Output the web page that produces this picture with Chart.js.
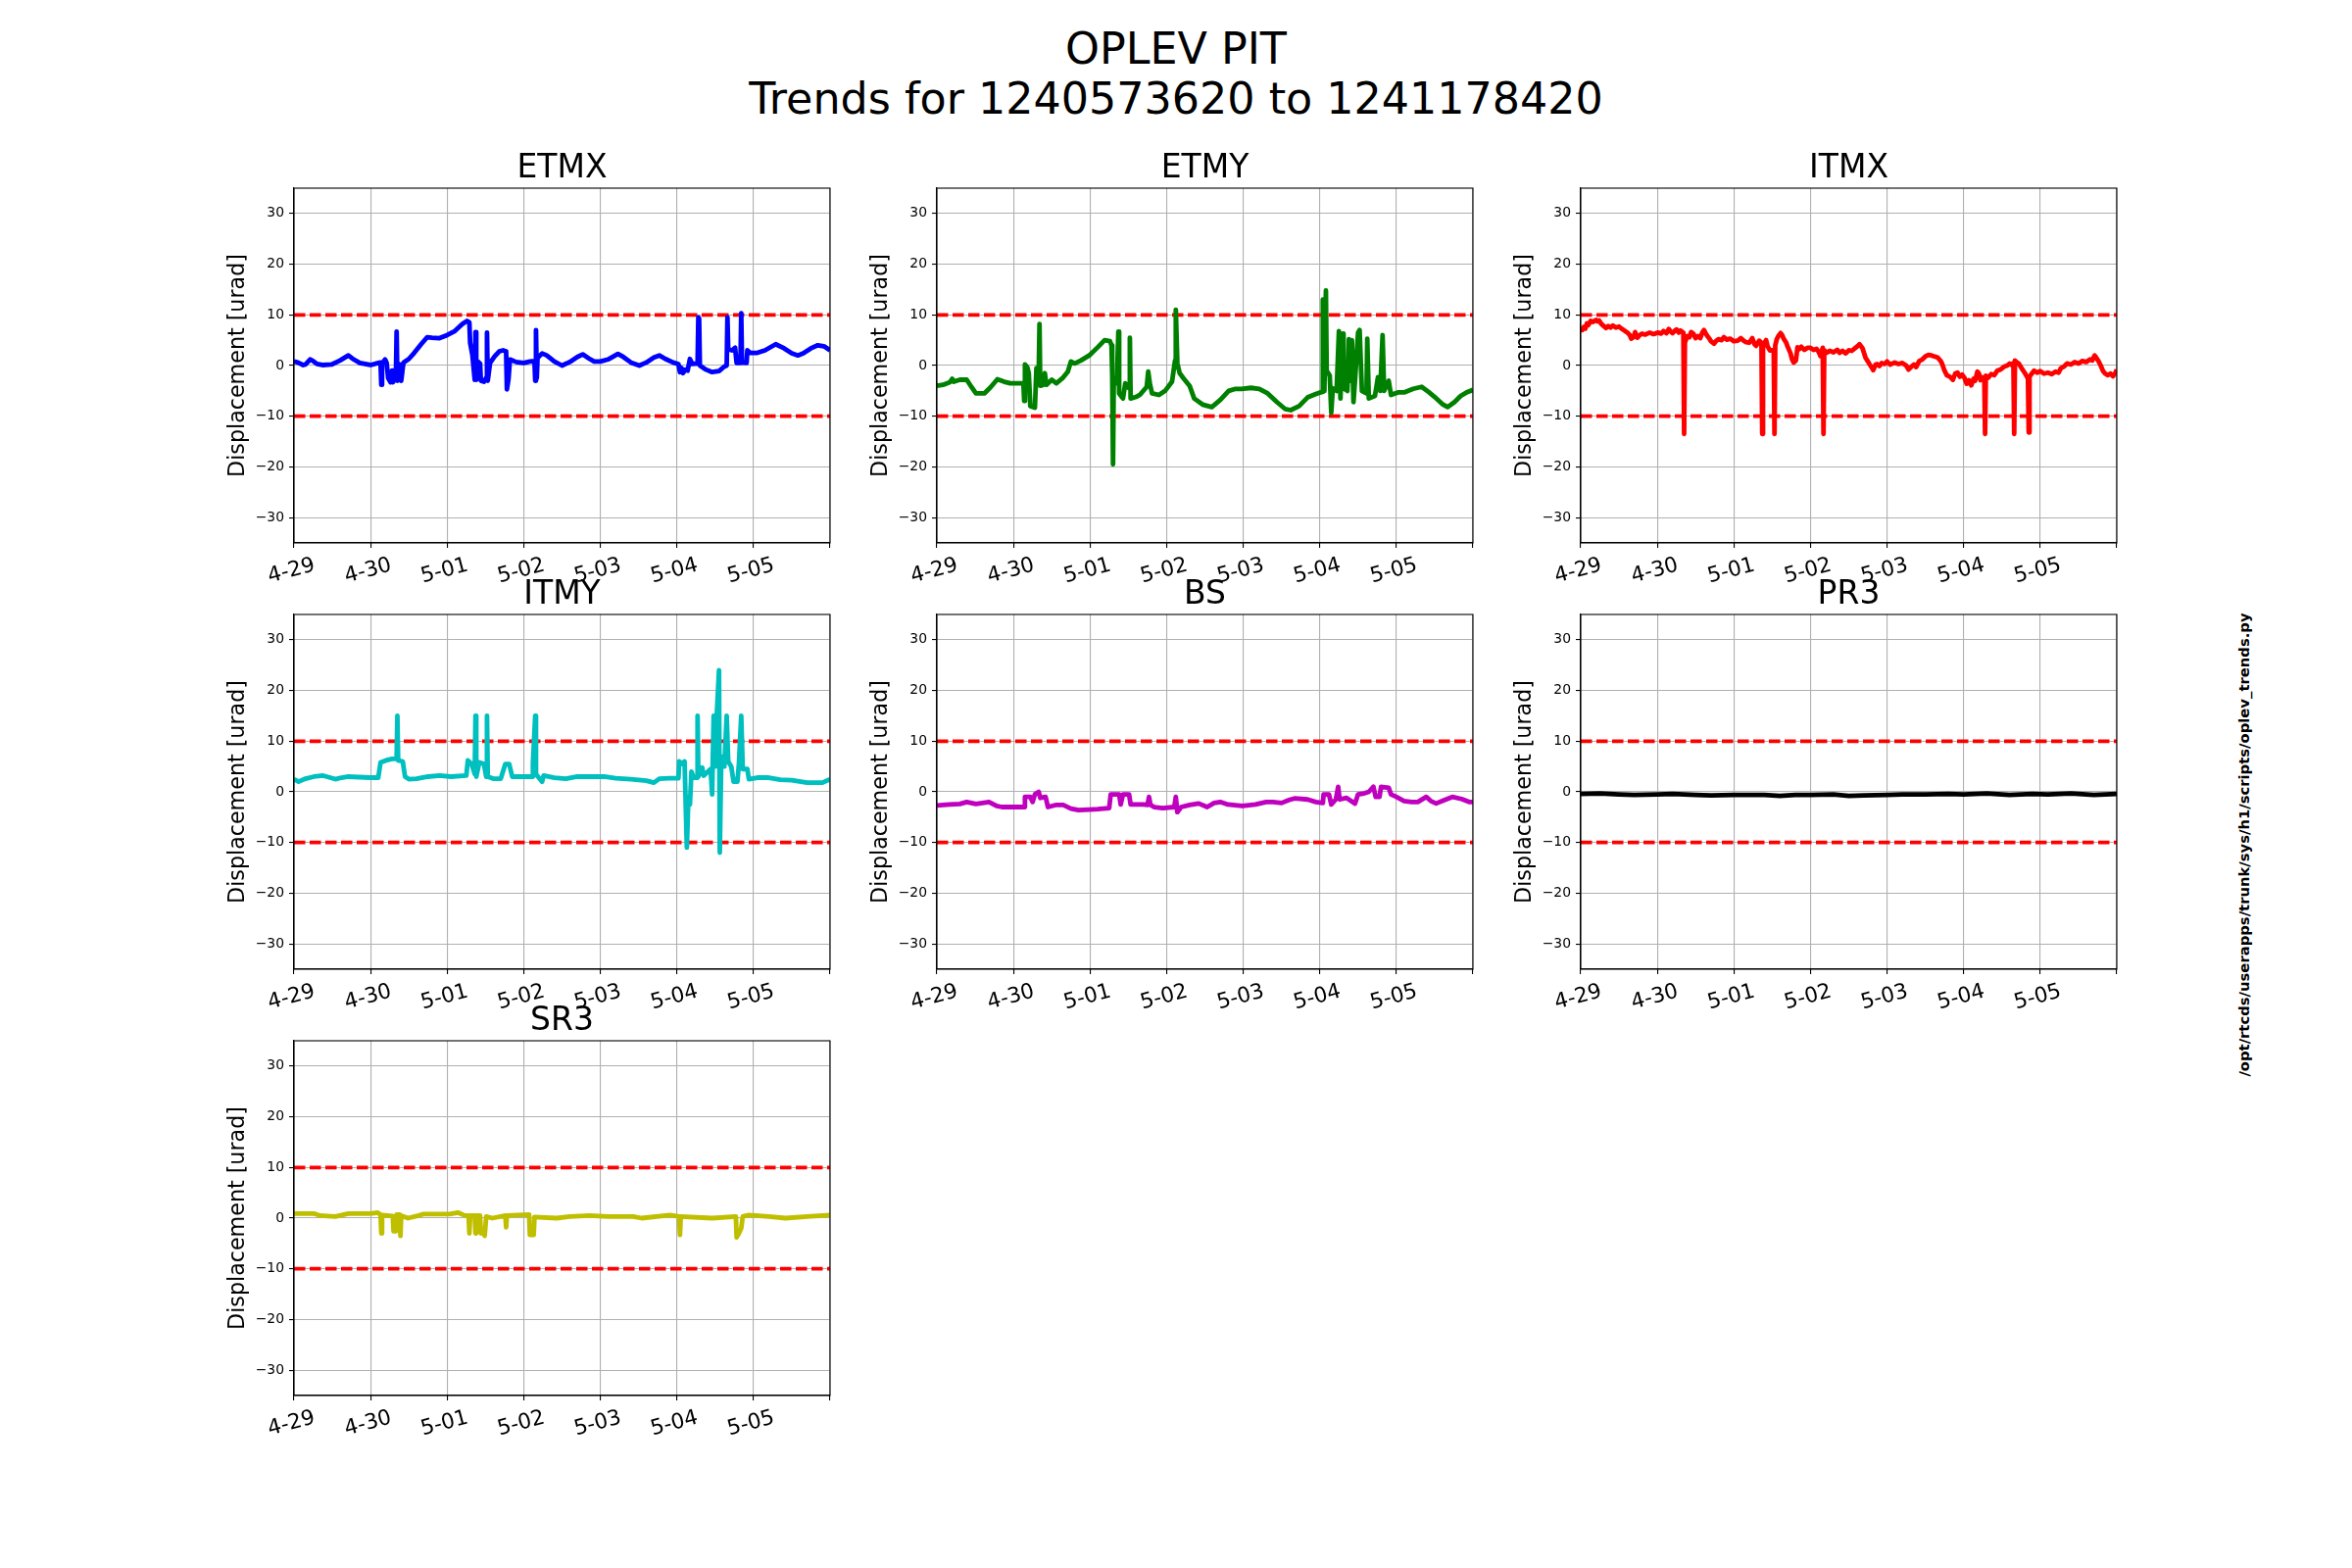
<!DOCTYPE html>
<html>
<head>
<meta charset="utf-8">
<title>OPLEV PIT trends</title>
<script src="https://cdn.jsdelivr.net/npm/chart.js@4.4.1/dist/chart.umd.min.js"></script>
<style>
  body { margin: 0; width: 2400px; height: 1600px; position: relative; overflow: hidden; background: #fff; font-family: 'DejaVu Sans', sans-serif; }
  canvas { position: absolute; }
  #suptitle { position: absolute; left: 0; top: 24px; width: 2400px; text-align: center; font-size: 44.4px; line-height: 51px; color: #000; }
  #script-path { position: absolute; left: 2289px; top: 862px; transform: translate(-50%, -50%) rotate(-90deg); white-space: nowrap; font-size: 14.8px; font-weight: bold; color: #000; }
</style>
</head>
<body>
<div id="suptitle">OPLEV PIT<br>Trends for 1240573620 to 1241178420</div>
<div id="script-path">/opt/rtcds/userapps/trunk/sys/h1/scripts/oplev_trends.py</div>
<script>
// x is days since 4-29 00:00, y is pitch in urad
const DAY_TICKS = [0, 1, 2, 3, 4, 5, 6, 7];
const DAY_LABELS = ['4-29', '4-30', '5-01', '5-02', '5-03', '5-04', '5-05', ''];
const Y_TICKS = [-30, -20, -10, 0, 10, 20, 30];
const LIMITS = [10, -10];

const ETMX = [
  [0,0.8],[0.05,0.6],[0.12,0.1],[0.15,0.2],[0.21,1.2],[0.24,1.0],[0.3,0.3],[0.37,0.1],[0.49,0.2],[0.6,1.0],
  [0.71,2.0],[0.78,1.2],[0.86,0.5],[1.0,0.1],[1.1,0.5],[1.13,0.6],[1.14,-3.8],[1.15,0.4],[1.19,1.2],[1.21,0.5],
  [1.23,-2.5],[1.26,-3.3],[1.28,-1.0],[1.29,-3.3],[1.33,-2.5],[1.34,6.7],[1.35,-3.0],[1.38,0.2],[1.40,-3.0],[1.42,-0.5],
  [1.43,0.6],[1.5,1.3],[1.57,2.5],[1.66,4.2],[1.74,5.6],[1.8,5.5],[1.9,5.4],[2.0,6.0],[2.1,6.8],[2.2,8.2],
  [2.26,8.8],[2.29,8.5],[2.30,4.5],[2.33,2.0],[2.36,-2.8],[2.37,6.6],[2.38,-2.8],[2.40,0.8],[2.43,0.4],[2.44,-3.0],
  [2.48,-3.2],[2.51,-2.4],[2.52,6.5],[2.53,-3.0],[2.56,0.5],[2.62,1.8],[2.68,2.8],[2.73,3.0],[2.77,2.8],[2.78,-4.7],
  [2.80,-2.8],[2.82,1.2],[2.9,0.7],[3.0,0.5],[3.08,0.8],[3.14,0.9],[3.15,-3.0],[3.16,7.0],[3.17,-2.5],[3.18,1.5],
  [3.24,2.4],[3.3,2.0],[3.4,0.8],[3.5,0.0],[3.6,0.7],[3.7,1.7],[3.77,2.2],[3.85,1.4],[3.92,0.8],[4.0,0.8],
  [4.1,1.2],[4.23,2.3],[4.3,1.7],[4.4,0.6],[4.51,0.0],[4.6,0.6],[4.7,1.6],[4.77,2.0],[4.85,1.3],[4.95,0.6],
  [5.02,0.3],[5.04,-1.3],[5.06,-0.5],[5.08,-1.5],[5.11,-0.8],[5.14,-1.0],[5.17,1.3],[5.2,0.3],[5.27,0.4],[5.28,9.5],
  [5.29,9.3],[5.30,0.0],[5.38,-0.8],[5.46,-1.3],[5.55,-1.1],[5.62,-0.2],[5.65,0.0],[5.66,9.5],[5.67,3.2],[5.72,3.0],
  [5.76,3.5],[5.78,0.5],[5.83,0.5],[5.84,10.3],[5.85,0.6],[5.91,0.5],[5.92,3.0],[5.96,2.5],[6.05,2.5],[6.15,3.0],
  [6.29,4.2],[6.4,3.4],[6.5,2.4],[6.58,2.0],[6.65,2.4],[6.75,3.4],[6.84,4.0],[6.92,3.8],[7.0,3.0]
];

const ETMY = [
  [0,-4.0],[0.08,-3.8],[0.17,-3.3],[0.2,-2.6],[0.22,-3.2],[0.3,-2.8],[0.39,-2.8],[0.45,-4.2],[0.51,-5.5],[0.62,-5.5],
  [0.7,-4.3],[0.79,-2.7],[0.88,-3.2],[0.96,-3.5],[1.13,-3.5],[1.14,-7.0],[1.15,0.2],[1.18,-0.3],[1.2,-1.5],[1.22,-8.0],
  [1.28,-8.3],[1.30,-0.5],[1.33,-1.2],[1.34,8.2],[1.35,-4.0],[1.39,-3.8],[1.41,-1.5],[1.43,-3.8],[1.5,-2.8],[1.56,-3.5],
  [1.64,-2.5],[1.71,-1.2],[1.75,0.8],[1.8,0.4],[1.88,1.0],[1.99,2.0],[2.1,3.6],[2.19,5.0],[2.26,4.8],[2.28,4.0],
  [2.29,-2.0],[2.30,-19.5],[2.31,-2.5],[2.35,-3.5],[2.37,6.7],[2.38,-5.5],[2.43,-6.5],[2.46,-3.5],[2.51,-4.5],[2.52,5.5],
  [2.53,-6.5],[2.6,-6.2],[2.65,-5.8],[2.74,-4.2],[2.76,-1.2],[2.78,-3.5],[2.81,-5.5],[2.9,-5.8],[2.98,-5.0],[3.07,-3.2],
  [3.11,1.0],[3.12,11.0],[3.14,0.5],[3.17,-1.5],[3.22,-2.5],[3.3,-4.0],[3.36,-6.5],[3.47,-7.7],[3.59,-8.2],[3.7,-6.8],
  [3.81,-5.0],[3.9,-4.6],[3.98,-4.6],[4.1,-4.4],[4.21,-4.6],[4.32,-5.5],[4.44,-7.2],[4.55,-8.6],[4.62,-8.8],[4.73,-8.0],
  [4.84,-6.3],[4.95,-5.6],[5.03,-5.2],[5.04,13.0],[5.06,-5.0],[5.08,14.8],[5.09,-1.0],[5.13,-2.0],[5.15,-9.3],[5.17,-4.5],
  [5.22,-5.0],[5.25,6.8],[5.27,-6.5],[5.30,6.3],[5.31,-4.5],[5.36,-5.0],[5.38,5.2],[5.40,-3.0],[5.42,5.0],[5.44,-7.2],
  [5.46,-3.0],[5.50,6.5],[5.52,7.0],[5.55,-5.0],[5.61,-5.5],[5.62,5.3],[5.64,-6.5],[5.72,-6.0],[5.76,-2.3],[5.79,-5.0],
  [5.82,6.0],[5.84,-5.0],[5.90,-3.0],[5.93,-5.8],[6.02,-5.3],[6.1,-5.3],[6.22,-4.6],[6.33,-4.2],[6.42,-5.2],[6.5,-6.2],
  [6.6,-7.6],[6.67,-8.2],[6.76,-7.2],[6.84,-6.0],[6.93,-5.2],[7.0,-4.8]
];

const ITMX = [
  [0,7.2],[0.02,7.0],[0.04,7.6],[0.06,7.3],[0.08,8.3],[0.1,8.0],[0.13,8.8],[0.16,8.6],[0.2,9.0],[0.22,8.7],
  [0.24,8.9],[0.27,8.2],[0.3,7.8],[0.33,7.4],[0.36,7.8],[0.39,7.5],[0.42,7.9],[0.46,7.5],[0.5,7.7],[0.53,7.3],
  [0.56,7.0],[0.61,6.5],[0.64,6.0],[0.66,5.3],[0.69,5.6],[0.71,6.6],[0.74,5.5],[0.77,6.0],[0.8,6.3],[0.84,6.1],
  [0.9,6.5],[0.95,6.2],[1.01,6.5],[1.05,6.3],[1.08,6.8],[1.12,6.4],[1.15,7.2],[1.18,6.6],[1.2,6.4],[1.23,6.9],
  [1.25,7.1],[1.28,6.5],[1.30,6.9],[1.34,6.5],[1.35,-13.5],[1.36,4.5],[1.39,5.8],[1.42,5.6],[1.44,6.6],[1.47,6.3],
  [1.5,5.4],[1.53,5.8],[1.56,5.4],[1.59,6.6],[1.61,7.0],[1.63,6.4],[1.65,5.9],[1.68,5.3],[1.7,4.8],[1.74,4.3],
  [1.77,4.9],[1.8,5.2],[1.84,5.0],[1.87,5.6],[1.91,5.1],[1.95,5.3],[2.0,4.8],[2.05,4.9],[2.09,5.4],[2.12,5.0],
  [2.16,4.6],[2.2,4.5],[2.24,5.4],[2.27,4.2],[2.29,3.9],[2.33,4.9],[2.36,4.5],[2.37,-13.5],[2.38,4.0],[2.42,5.0],
  [2.44,3.8],[2.47,3.0],[2.52,3.0],[2.53,-13.5],[2.54,4.0],[2.56,5.2],[2.58,5.8],[2.61,6.4],[2.63,6.0],[2.65,5.3],
  [2.68,4.6],[2.7,3.8],[2.74,2.4],[2.76,1.2],[2.78,0.6],[2.81,1.0],[2.83,3.6],[2.85,3.2],[2.88,3.7],[2.92,3.1],
  [2.96,3.5],[3.0,3.5],[3.04,3.1],[3.08,3.3],[3.11,2.6],[3.13,1.9],[3.16,3.5],[3.17,-13.5],[3.18,3.0],[3.21,2.5],
  [3.25,2.9],[3.3,2.6],[3.35,3.1],[3.38,2.5],[3.42,2.9],[3.46,2.4],[3.5,3.0],[3.54,2.9],[3.58,3.4],[3.62,3.9],
  [3.64,4.2],[3.68,3.4],[3.72,1.5],[3.75,0.8],[3.77,0.3],[3.8,-0.4],[3.82,-0.9],[3.85,0.2],[3.87,0.3],[3.9,-0.1],
  [3.93,0.5],[3.97,0.3],[4.0,0.8],[4.04,0.2],[4.1,0.6],[4.15,0.3],[4.2,0.5],[4.25,0.0],[4.28,-0.8],[4.32,-0.2],
  [4.35,0.2],[4.38,-0.3],[4.42,0.9],[4.46,1.2],[4.5,1.8],[4.54,2.1],[4.58,2.0],[4.62,1.8],[4.66,1.6],[4.7,0.9],
  [4.72,0.3],[4.75,-1.0],[4.78,-1.9],[4.82,-2.2],[4.86,-2.8],[4.89,-1.6],[4.92,-1.4],[4.95,-2.2],[4.98,-1.8],[5.01,-2.4],
  [5.04,-3.6],[5.07,-2.9],[5.1,-3.9],[5.13,-2.6],[5.15,-3.0],[5.18,-1.2],[5.2,-1.6],[5.22,-2.9],[5.24,-2.3],[5.27,-2.6],
  [5.28,-13.5],[5.29,-2.0],[5.32,-2.4],[5.36,-1.7],[5.4,-1.9],[5.44,-1.0],[5.48,-0.8],[5.53,-0.2],[5.57,0.0],[5.6,0.4],
  [5.63,0.1],[5.65,0.5],[5.66,-13.5],[5.67,1.0],[5.69,0.7],[5.72,0.4],[5.76,-0.6],[5.8,-1.5],[5.83,-2.3],[5.84,-2.6],
  [5.85,-13.2],[5.86,-2.2],[5.89,-1.6],[5.92,-1.0],[5.96,-1.4],[6.0,-1.1],[6.05,-1.6],[6.1,-1.4],[6.15,-1.7],[6.2,-1.2],
  [6.24,-1.4],[6.27,-0.5],[6.31,-0.2],[6.35,0.4],[6.4,0.2],[6.45,0.7],[6.5,0.4],[6.55,0.9],[6.6,0.7],[6.65,1.2],
  [6.68,1.0],[6.71,2.0],[6.73,1.6],[6.76,0.9],[6.79,0.0],[6.82,-1.1],[6.85,-1.6],[6.88,-1.9],[6.92,-1.6],[6.95,-2.1],
  [6.98,-1.5],[7.0,-0.8]
];

const ITMY = [
  [0,2.5],[0.06,2.0],[0.15,2.6],[0.26,3.0],[0.38,3.2],[0.45,2.9],[0.54,2.5],[0.62,2.8],[0.71,3.0],[0.85,2.9],
  [1.0,2.8],[1.1,2.8],[1.13,5.8],[1.2,6.2],[1.28,6.5],[1.34,6.5],[1.35,15.0],[1.36,6.2],[1.42,6.0],[1.45,3.0],
  [1.5,2.5],[1.6,2.6],[1.75,3.0],[1.9,3.2],[2.05,3.0],[2.25,3.2],[2.27,6.2],[2.32,5.5],[2.36,3.5],[2.37,15.0],
  [2.38,3.0],[2.42,5.8],[2.48,5.5],[2.51,3.0],[2.52,15.0],[2.53,3.0],[2.6,2.6],[2.7,2.6],[2.76,5.5],[2.81,5.5],
  [2.85,3.0],[3.0,3.0],[3.11,3.0],[3.12,5.8],[3.15,15.0],[3.16,3.5],[3.24,2.0],[3.26,3.2],[3.4,2.8],[3.55,2.6],
  [3.7,3.0],[3.9,3.0],[4.05,3.0],[4.2,2.7],[4.4,2.5],[4.6,2.2],[4.7,1.8],[4.77,2.6],[4.9,2.7],[5.02,2.7],
  [5.03,6.0],[5.06,5.5],[5.1,6.0],[5.13,-11.0],[5.15,-1.0],[5.17,-2.5],[5.19,4.0],[5.22,2.8],[5.26,2.8],[5.27,15.0],
  [5.28,3.0],[5.33,4.8],[5.35,3.2],[5.44,4.5],[5.46,-0.5],[5.48,15.0],[5.50,5.0],[5.52,15.0],[5.55,24.0],[5.56,-12.0],
  [5.58,7.0],[5.62,5.0],[5.65,15.0],[5.67,6.0],[5.71,5.0],[5.74,2.0],[5.79,2.0],[5.81,5.5],[5.84,15.0],[5.86,4.5],
  [5.92,4.5],[5.94,2.5],[6.05,2.8],[6.2,2.8],[6.35,2.4],[6.5,2.3],[6.7,1.8],[6.9,1.8],[7.0,2.5]
];

const BS = [
  [0,-2.7],[0.17,-2.5],[0.3,-2.4],[0.39,-2.0],[0.51,-2.4],[0.68,-2.0],[0.78,-2.8],[0.85,-3.0],[1.14,-3.0],[1.15,-1.0],
  [1.22,-1.0],[1.25,-2.0],[1.28,-0.5],[1.33,0.0],[1.35,-1.2],[1.42,-1.0],[1.45,-3.0],[1.55,-2.6],[1.65,-2.6],[1.75,-3.3],
  [1.85,-3.6],[1.99,-3.5],[2.1,-3.4],[2.25,-3.2],[2.27,-0.5],[2.38,-0.5],[2.40,-2.5],[2.43,-0.5],[2.51,-0.5],[2.53,-2.5],
  [2.7,-2.5],[2.75,-2.6],[2.77,-1.0],[2.79,-2.6],[2.84,-3.0],[2.95,-3.2],[3.1,-3.0],[3.12,-1.0],[3.14,-4.0],[3.19,-3.0],
  [3.3,-2.6],[3.42,-2.3],[3.53,-3.0],[3.62,-2.2],[3.7,-2.0],[3.8,-2.5],[3.99,-2.8],[4.16,-2.5],[4.3,-2.0],[4.39,-2.0],
  [4.5,-2.2],[4.6,-1.6],[4.67,-1.3],[4.84,-1.5],[4.95,-2.0],[5.04,-2.2],[5.05,-0.5],[5.12,-0.5],[5.15,-2.5],[5.21,-1.5],
  [5.24,1.0],[5.26,-1.5],[5.35,-1.2],[5.46,-2.3],[5.5,-0.5],[5.58,-0.3],[5.64,0.0],[5.70,1.0],[5.73,-1.0],[5.78,-1.0],
  [5.80,1.0],[5.9,0.8],[5.93,-0.5],[6.0,-1.0],[6.1,-1.8],[6.2,-2.0],[6.28,-2.0],[6.39,-1.0],[6.45,-1.8],[6.52,-2.3],
  [6.6,-1.8],[6.73,-1.0],[6.85,-1.4],[6.95,-2.0],[7.0,-2.0]
];

const PR3 = [
  [0,-0.4],[0.25,-0.3],[0.5,-0.5],[0.7,-0.6],[1.0,-0.5],[1.2,-0.4],[1.5,-0.6],[1.7,-0.7],[2.0,-0.6],[2.4,-0.6],
  [2.6,-0.8],[2.8,-0.6],[3.0,-0.6],[3.3,-0.5],[3.5,-0.8],[3.7,-0.7],[4.0,-0.6],[4.2,-0.5],[4.5,-0.5],[4.8,-0.4],
  [5.0,-0.5],[5.3,-0.3],[5.6,-0.6],[5.9,-0.4],[6.1,-0.5],[6.4,-0.3],[6.7,-0.6],[7.0,-0.4]
];

const SR3 = [
  [0,0.9],[0.2,0.9],[0.26,0.9],[0.34,0.5],[0.54,0.3],[0.71,0.9],[1.0,0.9],[1.09,1.1],[1.13,0.7],[1.14,-3.0],
  [1.15,0.6],[1.29,0.4],[1.30,-2.6],[1.33,-2.6],[1.34,0.7],[1.38,0.7],[1.39,-3.5],[1.40,0.5],[1.49,0.0],[1.6,0.4],
  [1.69,0.8],[2.03,0.8],[2.14,1.1],[2.23,0.5],[2.28,0.5],[2.29,-3.0],[2.30,0.5],[2.36,0.5],[2.37,-3.0],[2.38,0.5],
  [2.43,0.5],[2.44,-3.0],[2.47,-2.5],[2.49,-3.5],[2.51,0.3],[2.59,0.0],[2.76,0.5],[2.77,-1.8],[2.78,0.5],[3.07,0.7],
  [3.08,-3.3],[3.13,-3.3],[3.14,0.2],[3.43,0.0],[3.6,0.3],[3.86,0.5],[4.1,0.3],[4.43,0.3],[4.54,0.0],[4.91,0.6],
  [5.03,0.3],[5.04,-3.3],[5.05,0.3],[5.46,0.0],[5.77,0.3],[5.78,-3.8],[5.81,-3.0],[5.84,-2.0],[5.86,0.3],[5.94,0.6],
  [6.2,0.3],[6.42,0.0],[6.7,0.3],[7.0,0.6]
];

const OPTICS = ['ETMX', 'ETMY', 'ITMX', 'ITMY', 'BS', 'PR3', 'SR3'];
const SERIES = [ETMX, ETMY, ITMX, ITMY, BS, PR3, SR3];
const COLORS = ['#0000ff', '#008000', '#ff0000', '#00bfbf', '#bf00bf', '#000000', '#bfbf00'];

// subplot grid (matplotlib 3x3 default margins on a 2400x1600 figure)
const PLOT_LEFTS = [300, 956, 1613];
const PLOT_TOPS = [192, 627, 1062];
const PLOT_W = 547, PLOT_H = 362;
const Y_AXIS_W = 110, X_AXIS_H = 72, TOP_SPACE = 46, RIGHT_PAD = 12;

Chart.defaults.font.family = 'DejaVu Sans';
Chart.defaults.color = '#000';

// black box round the axes, like matplotlib spines
const spines = {
  id: 'spines',
  afterDatasetsDraw(chart) {
    const { ctx, chartArea: a } = chart;
    ctx.save();
    ctx.strokeStyle = '#000';
    ctx.lineWidth = 1.1;
    ctx.strokeRect(a.left, a.top, a.right - a.left, a.bottom - a.top);
    ctx.restore();
  }
};

const gridOpts = { color: '#b0b0b0', lineWidth: 1.1, tickColor: '#000', tickLength: 5, tickWidth: 1.1 };

OPTICS.forEach((name, i) => {
  const row = Math.floor(i / 3), col = i % 3;
  const canvas = document.createElement('canvas');
  canvas.width = Y_AXIS_W + PLOT_W + RIGHT_PAD;
  canvas.height = TOP_SPACE + PLOT_H + X_AXIS_H;
  canvas.style.left = (PLOT_LEFTS[col] - Y_AXIS_W) + 'px';
  canvas.style.top = (PLOT_TOPS[row] - TOP_SPACE) + 'px';
  document.body.appendChild(canvas);

  const datasets = [{
    data: SERIES[i].map(p => ({ x: p[0], y: p[1] })),
    borderColor: COLORS[i],
    borderWidth: 4.8,
    borderJoinStyle: 'round',
    pointRadius: 0,
    tension: 0
  }];
  LIMITS.forEach(v => {
    datasets.push({
      data: [{ x: 0, y: v }, { x: 7, y: v }],
      borderColor: '#ff0000',
      borderWidth: 3.8,
      borderDash: [11.5, 4.5],
      pointRadius: 0
    });
  });

  new Chart(canvas, {
    type: 'line',
    data: { datasets },
    options: {
      responsive: false,
      animation: false,
      devicePixelRatio: 1,
      layout: { padding: { top: 6, right: RIGHT_PAD, left: 0, bottom: 0 } },
      plugins: {
        legend: { display: false },
        tooltip: { enabled: false },
        title: {
          display: true,
          fullSize: false,
          text: name,
          color: '#000',
          font: { size: 33, weight: 'normal', lineHeight: 40 / 33 },
          padding: { top: 0, bottom: 0 }
        }
      },
      scales: {
        x: {
          type: 'linear',
          min: 0,
          max: 7,
          afterBuildTicks: s => { s.ticks = DAY_TICKS.map(v => ({ value: v })); },
          afterFit: s => { s.height = X_AXIS_H; },
          grid: gridOpts,
          border: { color: '#000', width: 1.1 },
          ticks: {
            autoSkip: false,
            minRotation: 15,
            maxRotation: 15,
            labelOffset: 21,
            padding: 5,
            color: '#000',
            font: { size: 21.5 },
            callback: (v, idx) => DAY_LABELS[idx]
          }
        },
        y: {
          min: -35,
          max: 35,
          afterBuildTicks: s => { s.ticks = Y_TICKS.map(v => ({ value: v })); },
          afterFit: s => { s.width = Y_AXIS_W; },
          grid: gridOpts,
          border: { color: '#000', width: 1.1 },
          title: {
            display: true,
            text: 'Displacement [urad]',
            color: '#000',
            font: { size: 22.2 },
            padding: { top: 39.7, bottom: 0 }
          },
          ticks: {
            padding: 5,
            color: '#000',
            font: { size: 13.9 },
            callback: v => (v < 0 ? '\u2212' + (-v) : String(v))
          }
        }
      }
    },
    plugins: [spines]
  });
});
</script>
</body>
</html>
